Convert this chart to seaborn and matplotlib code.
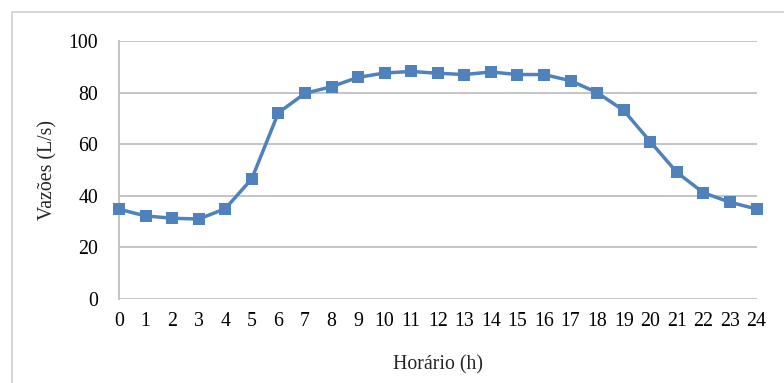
import matplotlib
matplotlib.use("Agg")
import matplotlib.pyplot as plt
import seaborn as sns
import pandas as pd
from matplotlib.patches import Rectangle

hours = list(range(25))
flows = [34.8, 32.2, 31.3, 31.0, 35.0, 46.6, 72.2, 79.7, 82.3, 85.9, 87.6, 88.2,
         87.5, 87.0, 88.0, 87.0, 87.0, 84.6, 80.0, 73.1, 61.0, 49.1, 41.2, 37.5, 34.9]
y_ticks = [0, 20, 40, 60, 80, 100]

sns.set_theme(style="white")
plt.rcParams['font.family'] = ['Liberation Serif', 'DejaVu Serif']

df = pd.DataFrame({"h": hours, "v": flows})

fig = plt.figure(figsize=(7.84, 3.83), dpi=100)
fig.patches.append(Rectangle((12/784, -0.1), 1.1, 1 - 12/383 + 0.1, transform=fig.transFigure,
                             fill=False, edgecolor="#D0D0D0", linewidth=1.2))
ax = fig.add_axes([119/784, 1 - 299/383, (756.5 - 119)/784, (299 - 41)/383])

sns.lineplot(data=df, x="h", y="v", ax=ax, color="#4F81BD", linewidth=2.5,
             marker="s", markersize=8, markeredgewidth=0, clip_on=False, zorder=3)

ax.set_xlim(0, 24)
ax.set_ylim(0, 100)
ax.set_xticks(hours)
ax.set_xticklabels([str(h) for h in hours])
ax.set_yticks(y_ticks)
ax.yaxis.grid(True, color="#BFBFBF", linewidth=1.3)
ax.xaxis.grid(False)
for s in ["top", "right", "bottom"]:
    ax.spines[s].set_visible(False)
ax.spines["left"].set_color("#BFBFBF")
ax.spines["left"].set_linewidth(1.3)
ax.tick_params(axis="both", length=0, labelsize=14.3, colors="black")
ax.tick_params(axis="x", pad=9)
ax.tick_params(axis="y", pad=15)
ax.set_xlabel("Horário (h)", fontsize=14.3, labelpad=18)
ax.set_ylabel("Vazões (L/s)", fontsize=14.3, labelpad=8)

fig.savefig("out.png", dpi=100)
